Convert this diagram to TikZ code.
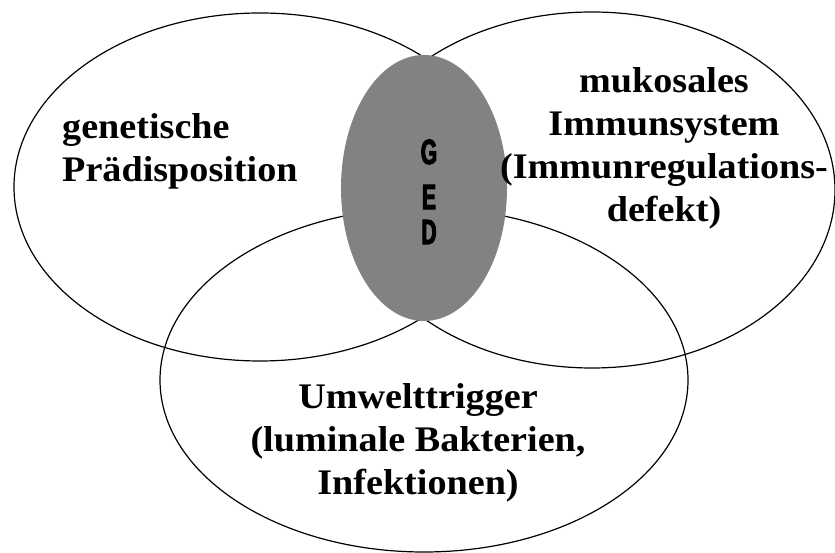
\documentclass[tikz,border=0pt]{standalone}
\usepackage{fontspec}
\setmainfont{Liberation Serif}[FakeStretch=1.06]
\newfontfamily\gedfont{Liberation Sans}[FakeStretch=0.6,FakeBold=3]
\usetikzlibrary{shapes.geometric}
\definecolor{gedgray}{RGB}{130,130,130}

\begin{document}
\begin{tikzpicture}[x=1pt,y=1pt,
  ring/.style={draw,ellipse,line width=1.2pt,inner sep=0pt},
  venntext/.style={font=\fontsize{36}{43}\selectfont\bfseries,inner sep=0pt},
  gedletter/.style={font=\gedfont\fontsize{35}{35}\selectfont\bfseries,inner sep=0pt}]
\useasboundingbox (0,0) rectangle (835,553);
\node[ring,minimum width=492pt,minimum height=348pt] (gen) at (260,366) {};
\node[ring,minimum width=486pt,minimum height=356pt] (imm) at (592,363) {};
\node[ring,minimum width=528pt,minimum height=344pt] (umw) at (424,173) {};
\node[fill=gedgray,ellipse,inner sep=0pt,minimum width=166pt,minimum height=266pt] (ged) at (424,365) {};
\node[gedletter] (g) at (429,401) {G};
\node[gedletter] (e) at (429,356) {E};
\node[gedletter] (d) at (429,321) {D};
\node[venntext,align=left,anchor=base west] (gentext) at (62,371) {genetische\\Prädisposition};
\node[venntext,align=center,anchor=base] (immtext) at (664,331) {mukosales\\Immunsystem\\(Immunregulations-\\defekt)};
\node[venntext,align=center,anchor=base] (umwtext) at (418,58) {Umwelttrigger\\(luminale Bakterien,\\Infektionen)};
\end{tikzpicture}
\end{document}
